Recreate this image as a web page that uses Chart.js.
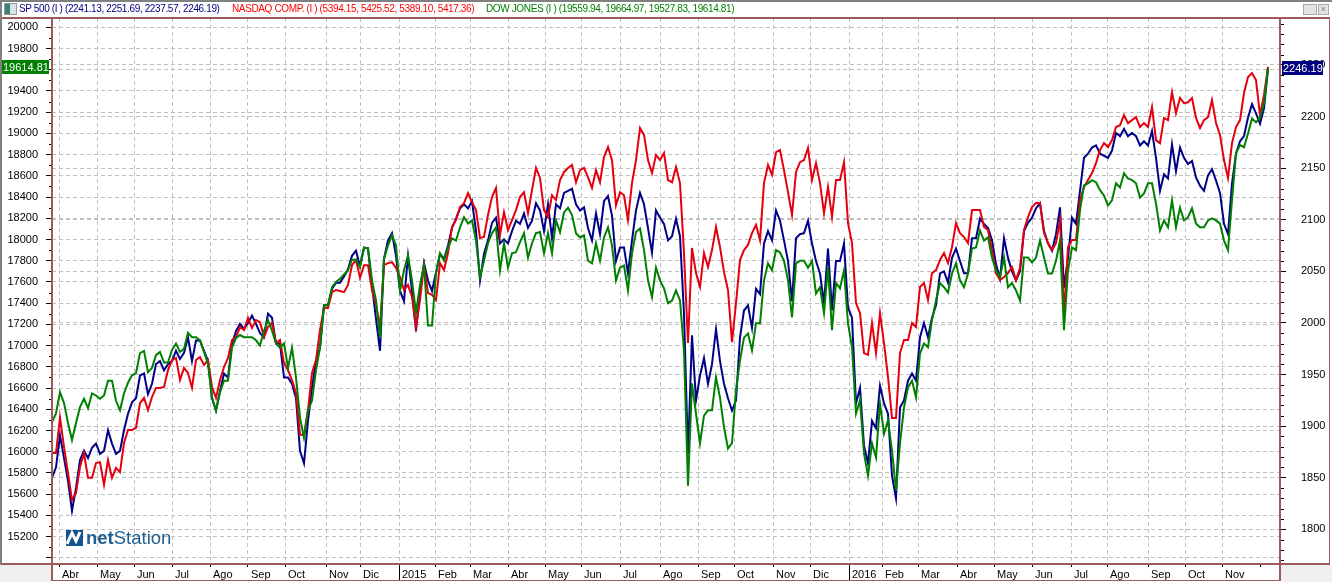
<!DOCTYPE html>
<html>
<head>
<meta charset="utf-8">
<title>SP 500 / NASDAQ / DOW JONES</title>
<script src="https://cdn.jsdelivr.net/npm/chart.js@4/dist/chart.umd.min.js"></script>
<style>
    html, body { margin: 0; padding: 0; background: #fff; overflow: hidden; }
    #wrap { position: relative; width: 1332px; height: 582px; font-family: "Liberation Sans", Arial, sans-serif; }
    canvas { position: absolute; left: 0; top: 0; }
    .head { position: absolute; top: 2px; font-size: 10px; letter-spacing: -0.37px; line-height: 13px; white-space: pre; }
    .icon { position: absolute; left: 4px; top: 3px; width: 11px; height: 10px; border: 1px solid #9a9a9a; background: linear-gradient(90deg, #3d7f7a 45%, #d8e4ea 45%); }
    .btn { position: absolute; top: 4px; width: 12px; height: 9px; border: 1px solid #a8a8a8; background: #e4e4e4; text-align: center; font-size: 9px; line-height: 9px; color: #808080; }
    #logo { position: absolute; left: 66px; top: 528px; height: 20px; color: #1f5f8f; font-size: 18.5px; line-height: 20px; white-space: pre; }
    #logo svg { position: absolute; left: 0; top: 2px; }
    #logo span { position: absolute; left: 20px; top: 0; }
</style>
</head>
<body>
<div id="wrap">
    <canvas id="chart" width="1332" height="582"></canvas>
    <div class="icon"></div>
    <div class="head" style="left:19px;color:#000080">SP 500 (I ) (2241.13, 2251.69, 2237.57, 2246.19)</div>
    <div class="head" style="left:232px;color:#ff0000">NASDAQ COMP. (I ) (5394.15, 5425.52, 5389.10, 5417.36)</div>
    <div class="head" style="left:486px;color:#008000">DOW JONES (I ) (19559.94, 19664.97, 19527.83, 19614.81)</div>
    <div class="btn" style="left:1303px"></div>
    <div class="btn" style="left:1318px;width:9px">×</div>
    <div id="logo">
        <svg width="17" height="16"><rect width="17" height="16" fill="#14558f"/><path d="M1 14 L6 3 L10 11 L14 2" fill="none" stroke="#fff" stroke-width="3"/></svg>
        <span><b>net</b>Station</span>
    </div>
</div>
<script>
// one sample every ~2.3 sessions
const dowJones = [
    16280,16360,16560,16460,16270,16110,16270,16420,16500,16410,16550,16530,16500,16530,16670,16670,16480,16390,16550,16650,
    16720,16740,16930,16950,16750,16790,16910,16940,16840,16840,16960,17020,16940,16970,17120,17080,17080,17050,16940,16830,
    16510,16390,16560,16670,16670,16980,17070,17100,17080,17080,17080,17050,17000,17140,17240,17140,17020,16980,17020,16790,
    16980,16700,16320,16130,16390,16480,16770,16980,17380,17380,17550,17600,
    17630,17670,17710,17810,17810,17740,17920,17920,17615,17426,17070,17820,17945,18040,17945,17520,17710,17850,17615,17310,17570,17755,17190,17190,17680,
    17870,17800,17925,18010,17990,18115,18210,18150,18180,17990,17645,17800,17965,18060,18115,17710,17965,17735,17870,17880,
    17975,18060,17830,17965,18060,18070,17870,18060,17870,18180,18070,18255,18300,18230,18060,18020,18040,17800,17775,17965,
    17800,18020,18115,17945,17615,17735,17755,17520,17870,18070,18105,17900,17615,17455,17735,17615,17540,17400,17425,17520,
    17425,16955,15680,16645,16360,16080,16340,16390,16390,16700,16510,16230,16030,16080,16580,16860,17075,17115,16955,17210,
    17210,17615,17775,17710,17900,17880,17800,17615,17265,17775,17800,17800,17735,17800,17490,17550,17305,17735,17145,17590,
    17540,17710,17210,16985,16360,16485,
    15985,15775,16080,15945,16455,16170,16295,16010,15635,16080,16415,16605,16670,16510,16925,17020,16985,17240,17425,17590,
    17550,17500,17680,17775,17615,17550,17680,17915,17925,18085,17990,18020,17830,17710,17645,17830,17550,17590,17520,17425,
    17830,17830,17785,17830,17990,17830,17680,17680,17800,17990,17145,17710,17925,17900,18275,18510,18530,18560,18540,18465,
    18415,18320,18370,18530,18490,18625,18575,18560,18530,18395,18435,18530,18530,18340,18085,18180,18115,18370,18115,18300,
    18180,18210,18295,18150,18115,18115,18180,18200,18180,18150,17990,17900,18370,18815,18890,18870,19000,19140,19105,19150,
    19285,19614.81
];
const sp500 = [
    1850,1860,1891,1869,1847,1818,1840,1867,1876,1869,1879,1883,1873,1876,1896,1883,1873,1876,1896,1912,
    1923,1927,1949,1951,1931,1941,1960,1963,1954,1960,1963,1973,1965,1971,1986,1963,1983,1983,1973,1963,
    1927,1915,1934,1951,1947,1980,1992,1999,1994,2000,2007,1999,1990,1986,2009,2005,1980,1980,1947,1947,
    1941,1927,1876,1864,1905,1937,1963,1976,2017,2017,2033,2039,
    2039,2045,2052,2065,2070,2055,2073,2072,2036,2004,1973,2062,2080,2087,2065,2031,2021,2065,2031,1992,2031,2058,2041,2031,2049,
    2067,2062,2075,2092,2101,2111,2115,2111,2118,2089,2041,2067,2080,2097,2102,2077,2081,2077,2089,2099,
    2096,2106,2092,2099,2116,2109,2089,2115,2082,2115,2111,2126,2128,2130,2115,2109,2112,2092,2080,2106,
    2086,2118,2123,2104,2060,2073,2073,2048,2080,2109,2126,2115,2092,2068,2109,2102,2096,2080,2084,2101,
    2084,2009,1873,1988,1925,1949,1966,1941,1960,1994,1963,1941,1927,1915,1925,1986,2012,2017,1995,2033,
    2028,2077,2089,2080,2109,2099,2080,2060,2021,2082,2086,2087,2099,2077,2060,2048,2019,2072,2012,2060,
    2060,2077,2015,2005,1922,1937,
    1881,1864,1905,1898,1939,1922,1912,1852,1830,1918,1925,1944,1951,1944,1986,2000,1986,2005,2017,2048,
    2050,2039,2063,2072,2060,2048,2048,2082,2082,2101,2096,2092,2080,2057,2043,2082,2063,2050,2041,2050,
    2089,2097,2102,2111,2116,2089,2077,2070,2086,2112,2034,2063,2102,2096,2128,2160,2164,2170,2172,2164,
    2162,2160,2167,2184,2181,2188,2181,2184,2181,2172,2176,2172,2186,2160,2128,2144,2140,2173,2147,2170,
    2160,2154,2157,2141,2133,2128,2143,2149,2138,2126,2096,2086,2135,2164,2176,2181,2199,2212,2203,2193,
    2208,2246.19
];
const nasdaq = [
    4143,4143,4259,4163,4077,3988,4011,4097,4143,4061,4061,4110,4113,4038,4120,4061,4094,4080,4176,4219,
    4219,4226,4308,4325,4285,4328,4358,4358,4361,4417,4450,4457,4384,4424,4407,4358,4450,4460,4434,4450,
    4361,4325,4384,4427,4457,4516,4526,4559,4549,4589,4556,4582,4575,4526,4559,4572,4506,4516,4440,4417,
    4384,4341,4203,4203,4285,4407,4450,4549,4622,4622,4674,4681,
    4678,4674,4698,4763,4780,4721,4763,4763,4681,4632,4559,4763,4770,4773,4754,4724,4681,4698,4658,4559,4648,4763,4671,4665,4648,
    4770,4747,4803,4889,4912,4955,4968,5001,4971,4945,4853,4856,4929,4988,5018,4863,4938,4879,4912,4945,
    4988,5004,4935,5011,5084,5051,4945,4922,4994,4978,5044,5070,5084,5094,5037,5077,5084,5054,5018,5077,
    5037,5120,5153,5110,4961,5004,4994,4912,5034,5110,5216,5193,5110,5067,5127,5110,5133,5044,5037,5087,
    5034,4803,4506,4820,4737,4691,4803,4757,4813,4889,4823,4740,4681,4509,4638,4780,4813,4830,4869,4896,
    4846,5034,5094,5061,5136,5143,5077,5004,4929,5070,5103,5110,5150,5044,5100,5034,4935,5021,4922,5044,
    5044,5103,4902,4836,4638,4605,
    4473,4467,4572,4473,4605,4506,4394,4259,4259,4473,4516,4516,4572,4559,4691,4704,4648,4737,4747,4780,
    4803,4770,4823,4902,4869,4856,4836,4945,4945,4945,4889,4879,4813,4737,4714,4724,4737,4757,4714,4754,
    4879,4922,4955,4968,4968,4869,4836,4813,4836,4912,4605,4823,4846,4846,4978,5021,5044,5067,5100,5143,
    5166,5153,5176,5219,5225,5258,5232,5242,5252,5219,5232,5219,5285,5176,5166,5249,5242,5334,5265,5315,
    5298,5301,5315,5249,5216,5242,5252,5308,5232,5193,5110,5051,5166,5219,5242,5331,5384,5397,5374,5258,
    5325,5417.36
];

// month ticks, in sample numbers
const monthTicks = [1.75,11.25,20.5,30,39.5,49,58.25,68.5,77,86.75,95.75,104.5,114,123.25,132.25,142,152,161.5,170.5,180.25,189.5,199.25,207.5,216.5,226.25,235.5,245,254.75,263.75,274,283.25,292.5,302];
const monthLabels = ['Abr','May','Jun','Jul','Ago','Sep','Oct','Nov','Dic','2015','Feb','Mar','Abr','May','Jun','Jul','Ago','Sep','Oct','Nov','Dic','2016','Feb','Mar','Abr','May','Jun','Jul','Ago','Sep','Oct','Nov',''];
const dowTicks = [20000,19800,19600,19400,19200,19000,18800,18600,18400,18200,18000,17800,17600,17400,17200,17000,16800,16600,16400,16200,16000,15800,15600,15400,15200,15000];
const spTicks = [2250,2200,2150,2100,2050,2000,1950,1900,1850,1800];

const brown = '#9c5a5a';
const labelFont = { family: '"Liberation Sans", Arial, sans-serif', size: 11 };
const gridDash = [4, 3];

function points(values) {
    return values.map((v, i) => ({ x: i, y: v }));
}

function tickList(values) {
    return function(scale) {
        scale.ticks = values.map(v => ({ value: v }));
    };
}

// keep the plot area to the pane edges, no room for overhanging labels
function fixedWidth(scale) {
    scale.width = 52;
    scale.paddingTop = 0;
    scale.paddingBottom = 0;
}

const chromePlugin = {
    id: 'chrome',
    beforeDraw(chart) {
        const c = chart.ctx;
        c.fillStyle = '#fff';
        c.fillRect(0, 0, 1332, 582);
        c.fillStyle = '#f0f0f0';
        c.fillRect(0, 565, 51, 17);
        c.fillRect(1281, 565, 51, 17);
    },
    afterDraw(chart) {
        const c = chart.ctx;
        const yL = chart.scales.y;
        const yR = chart.scales.yR;
        const x = chart.scales.x;

        // minor ticks on both price axes
        c.fillStyle = '#000';
        for (let v = 15000; v <= 20000; v += 100) {
            if (v % 200 === 0) continue;
            c.fillRect(49, Math.round(yL.getPixelForValue(v)), 3, 1);
        }
        for (let v = 1770; v <= 2290; v += 10) {
            if (v % 50 === 0) continue;
            c.fillRect(1280, Math.round(yR.getPixelForValue(v)), 4, 1);
        }

        // pane frames
        c.fillStyle = '#808080';
        c.fillRect(0, 0, 1332, 2);
        c.fillRect(0, 0, 2, 565);
        c.fillStyle = brown;
        c.fillRect(2, 17, 1328, 2);
        c.fillRect(51, 17, 2, 564);
        c.fillRect(1279, 17, 2, 564);
        c.fillRect(1329, 17, 1, 548);
        c.fillRect(2, 563, 1328, 2);
        c.fillRect(51, 580, 1230, 1);

        // year dividers
        c.fillStyle = '#000';
        [9, 21].forEach(i => {
            c.fillRect(Math.round(x.getPixelForValue(monthTicks[i])), 565, 1, 15);
        });

        // last value tags
        c.font = '11px "Liberation Sans", Arial, sans-serif';
        c.textBaseline = 'middle';
        c.textAlign = 'left';
        const dowY = Math.round(yL.getPixelForValue(dowJones[dowJones.length - 1])) - 1;
        c.fillStyle = '#008000';
        c.fillRect(2, dowY - 7, 47, 14);
        c.fillStyle = '#fff';
        c.fillText(dowJones[dowJones.length - 1].toFixed(2), 3, dowY + 0.5);
        const spY = Math.round(yR.getPixelForValue(sp500[sp500.length - 1])) - 1;
        c.fillStyle = '#000080';
        c.fillRect(1282, spY - 7, 41, 14);
        c.fillStyle = '#fff';
        c.fillText(sp500[sp500.length - 1].toFixed(2), 1283, spY + 0.5);
    }
};

new Chart(document.getElementById('chart'), {
    type: 'line',
    plugins: [chromePlugin],
    data: {
        datasets: [
            { label: 'DOW JONES', data: points(dowJones), yAxisID: 'y', borderColor: '#008000', order: 1 },
            { label: 'NASDAQ COMP.', data: points(nasdaq), yAxisID: 'yN', borderColor: '#e4000f', order: 2 },
            { label: 'SP 500', data: points(sp500), yAxisID: 'yR', borderColor: '#000088', order: 3 }
        ]
    },
    options: {
        responsive: false,
        animation: false,
        layout: { padding: { top: 18 } },
        elements: {
            point: { radius: 0 },
            line: { borderWidth: 2, tension: 0 }
        },
        plugins: {
            legend: { display: false },
            tooltip: { enabled: false }
        },
        scales: {
            x: {
                type: 'linear',
                min: 0,
                max: 307,
                afterBuildTicks: tickList(monthTicks),
                afterFit(scale) {
                    scale.height = 19;
                    scale.paddingLeft = 0;
                    scale.paddingRight = 0;
                },
                border: { display: false, dash: gridDash },
                grid: {
                    color: ctx => (ctx.tick && ctx.tick.value === 302 ? 'transparent' : '#c0c0c0'),
                    tickColor: '#000',
                    tickLength: 4
                },
                ticks: {
                    autoSkip: false,
                    maxRotation: 0,
                    minRotation: 0,
                    align: 'start',
                    labelOffset: 3,
                    padding: 1,
                    color: '#000',
                    font: labelFont,
                    callback: (value, index) => monthLabels[index]
                }
            },
            y: {
                position: 'left',
                min: 14951,
                max: 20088,
                afterBuildTicks: tickList(dowTicks),
                afterFit: fixedWidth,
                border: { display: false, dash: gridDash },
                grid: { color: '#c0c0c0', tickColor: '#000', tickLength: 6 },
                ticks: { padding: 8, color: '#000', font: labelFont, callback: v => (v === 15000 ? '' : String(v)) }
            },
            yR: {
                position: 'right',
                min: 1767.3,
                max: 2295.5,
                afterBuildTicks: tickList(spTicks),
                afterFit: fixedWidth,
                border: { display: false, dash: gridDash },
                grid: { color: '#c0c0c0', tickColor: '#000', tickLength: 6 },
                ticks: { padding: 15, color: '#000', font: labelFont, callback: v => String(v) }
            },
            yN: {
                display: false,
                min: 3780,
                max: 5579
            }
        }
    }
});
</script>
</body>
</html>
